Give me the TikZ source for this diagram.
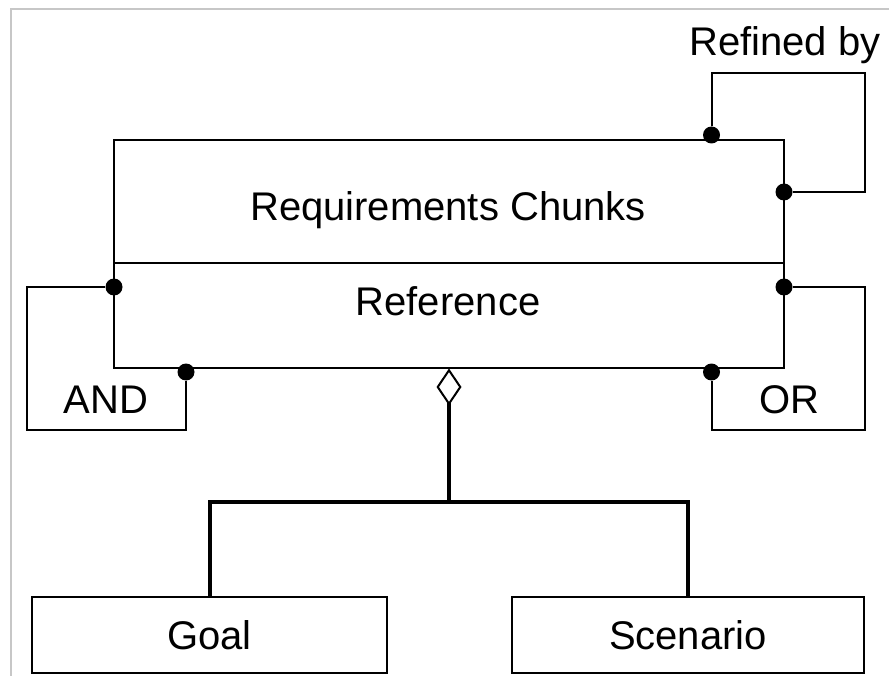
\documentclass[tikz,border=0pt]{standalone}
\usepackage{fontspec}
\setmainfont{Liberation Sans}
\usetikzlibrary{arrows.meta}

\tikzset{
  box/.style = {draw, line width=2pt, inner sep=0pt},
  txt/.style = {inner sep=0pt, text height=29pt, text depth=0pt, font=\fontsize{40}{48}\selectfont},
  dot/.style = {circle, fill, inner sep=0pt, minimum size=17pt},
  link/.style = {line width=2pt},
  part/.style = {line width=4pt},
}

\begin{document}
\begin{tikzpicture}[x = 1pt, y = -1pt]
\useasboundingbox (0,0) rectangle (889,676);
\draw[line width=2pt, black!22] (11,676) -- (11,9) -- (889,9);
\node[box, minimum width=670pt, minimum height=123pt] (chunks) at (449,201.5){};
\node[box, minimum width=670pt, minimum height=104pt] (ref) at (449,315.5){};
\node[txt] (chunkslabel) at (448,206){Requirements Chunks};
\node[txt] (reflabel) at (448,301){Reference};
\node[box, txt, minimum width=355pt, minimum height=76pt] (goal) at (209.5,635){Goal};
\node[box, txt, minimum width=352pt, minimum height=76pt] (scen) at (688,635){Scenario};
\node[txt] (refinedlabel) at (785,41.5){Refined by};
\node[txt] (andlabel) at (106,399){AND};
\node[txt] (orlabel) at (789,399){OR};
\node[dot] (rtop) at (711.5,135){};
\node[dot] (rright) at (784,192){};
\node[dot] (atop) at (114,287){};
\node[dot] (abot) at (186,372){};
\node[dot] (otop) at (784,287){};
\node[dot] (obot) at (711.5,372){};
\coordinate (rcorner) at (865,73);
\coordinate (acorner) at (27,430);
\coordinate (ocorner) at (865,430);
\coordinate (split) at (449,502);
\draw[link] (rtop) |- (rcorner) |- (rright);
\draw[link] (atop) -| (acorner) -| (abot);
\draw[link] (otop) -| (ocorner) -| (obot);
\draw[part] (goal.north) |- (split) -| (scen.north);
\draw[part, -{Diamond[open, length=37pt, width=25pt, line width=2pt]}] (split) -- (ref.south);
\end{tikzpicture}
\end{document}
